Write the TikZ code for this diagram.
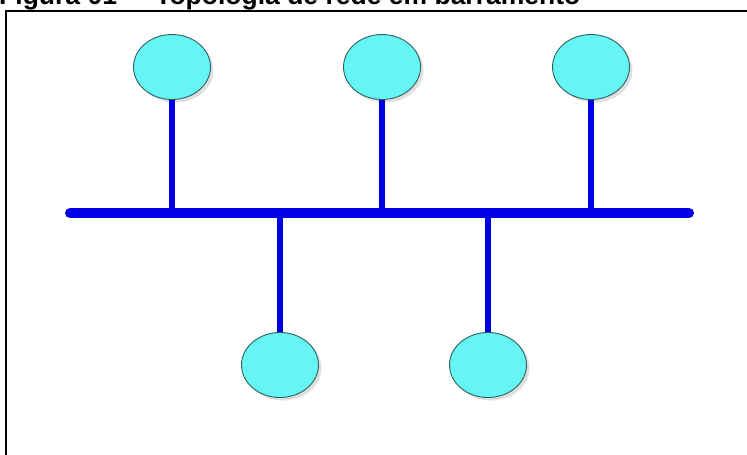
\documentclass[tikz,border=0pt]{standalone}
\usepackage{fontspec}
\setmainfont{Liberation Sans}
\usetikzlibrary{shapes.geometric,shadows}
\definecolor{nodecyan}{HTML}{66F5F5}
\definecolor{nodeline}{HTML}{2F6060}
\definecolor{busblue}{HTML}{0000E6}
\tikzset{
  station/.style={ellipse, draw=nodeline, line width=0.9pt, fill=nodecyan,
    minimum width=77pt, minimum height=65pt, inner sep=0pt,
    drop shadow={shadow xshift=3pt, shadow yshift=-3pt, fill=black!25, opacity=0.5}},
  busline/.style={busblue, line width=10pt, line cap=round},
  stem/.style={busblue, line width=5.5pt},
  frame/.style={black, line width=2pt}
}
\begin{document}
\begin{tikzpicture}[x=1pt,y=-1pt]
\useasboundingbox (0,0) rectangle (747,455);
\begin{scope}
\clip (0,0) rectangle (747,455);
\node[anchor=base west, inner sep=0pt, font=\fontsize{26.5}{31}\selectfont\bfseries] (title) at (-1,4.5) {Figura 01 \,–\, Topologia de rede em barramento};
\draw[frame] (6,470) -- (6,11) -- (760,11);
\end{scope}
\coordinate (busL) at (70,213);
\coordinate (busR) at (689,213);
\node[station] (n1) at (172,67) {};
\node[station] (n2) at (382,67) {};
\node[station] (n3) at (591,67) {};
\node[station] (n4) at (280,365) {};
\node[station] (n5) at (488,365) {};
\coordinate (j1) at (n1 |- busL);
\coordinate (j2) at (n2 |- busL);
\coordinate (j3) at (n3 |- busL);
\coordinate (j4) at (n4 |- busL);
\coordinate (j5) at (n5 |- busL);
\draw[stem] (n1.south) -- (j1);
\draw[stem] (n2.south) -- (j2);
\draw[stem] (n3.south) -- (j3);
\draw[stem] (n4.north) -- (j4);
\draw[stem] (n5.north) -- (j5);
\draw[busline] (busL) -- (busR);
\end{tikzpicture}
\end{document}
